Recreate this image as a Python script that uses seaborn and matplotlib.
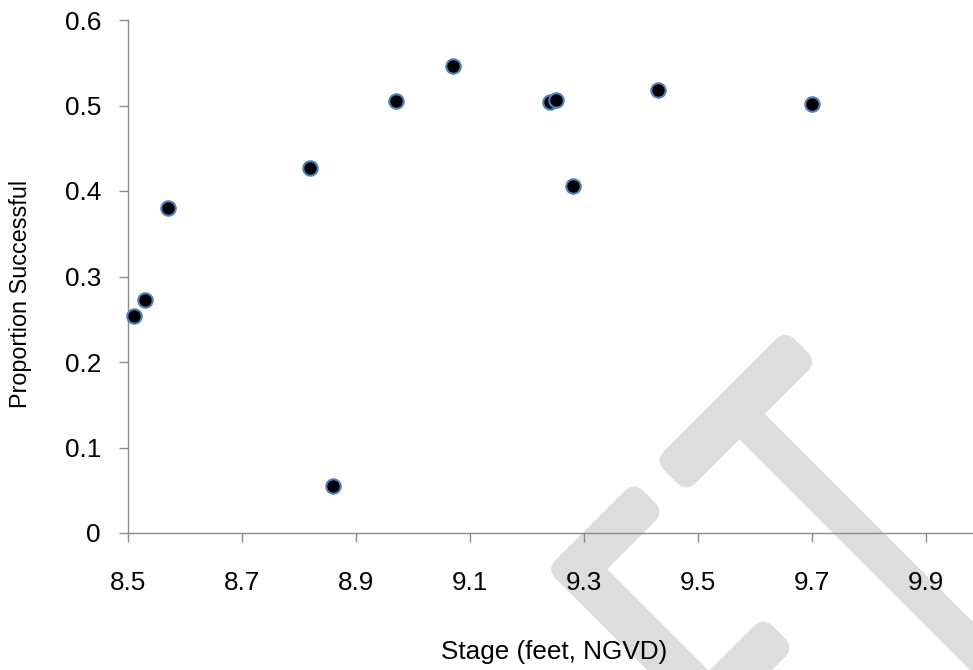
import numpy as np
import pandas as pd
import seaborn as sns
import matplotlib
matplotlib.use("Agg")
import matplotlib.pyplot as plt
from matplotlib.patches import FancyBboxPatch
from matplotlib.transforms import Affine2D

# Stage (feet, NGVD) and the proportion of successful nests at each stage
stage = [8.51, 8.53, 8.57, 8.82, 8.86, 8.97, 9.07, 9.24, 9.25, 9.28, 9.43, 9.70]
proportion = [0.254, 0.273, 0.380, 0.427, 0.055, 0.505, 0.546, 0.504, 0.506, 0.406, 0.518, 0.502]

x_ticks = [8.5, 8.7, 8.9, 9.1, 9.3, 9.5, 9.7, 9.9]
y_ticks = [0, 0.1, 0.2, 0.3, 0.4, 0.5, 0.6]

df = pd.DataFrame({"Stage": stage, "Proportion": proportion})

sns.set_theme(style="white")
plt.rcParams["font.family"] = ["Liberation Sans", "DejaVu Sans"]

W_PX, H_PX, DPI = 973, 670, 100
fig = plt.figure(figsize=(W_PX / DPI, H_PX / DPI), dpi=DPI)
fig.patch.set_facecolor("white")

# Light grey "DRAFT"-style watermark strokes, drawn behind the axes.
# Each stroke is a rounded bar given in pixel space (origin top-left):
# a centre line x+y = s (rising strokes) or x-y = d (falling strokes).
WM_COLOR = "#dddddd"


def stroke(p0, p1, width, radius=14):
    (x0, y0), (x1, y1) = p0, p1
    length = np.hypot(x1 - x0, y1 - y0)
    ang = np.degrees(np.arctan2(-(y1 - y0), x1 - x0))
    cx, cy = (x0 + x1) / 2, H_PX - (y0 + y1) / 2
    box = FancyBboxPatch((-length / 2, -width / 2), length, width,
                         boxstyle=f"round,pad=0,rounding_size={radius}",
                         linewidth=0, facecolor=WM_COLOR, zorder=-5)
    box.set_transform(Affine2D().rotate_deg(ang).translate(cx, cy)
                      .scale(1 / DPI) + fig.dpi_scale_trans)
    fig.patches.append(box)


def rising(s, d0, d1, width):
    return stroke(((s + d0) / 2, (s - d0) / 2), ((s + d1) / 2, (s - d1) / 2), width)


def falling(d, s0, s1, width):
    return stroke(((s0 + d) / 2, (s0 - d) / 2), ((s1 + d) / 2, (s1 - d) / 2), width)


rising(1147, 194, 455.5, 45)       # T cross bar
falling(325.5, 1140, 1800, 36)     # T stem
rising(1146, -23, 152.5, 43)       # left letter, upper arm
falling(7.5, 1116, 1500, 43)       # left letter, lower arm
rising(1411, -150, 146.7, 44)      # stroke at the bottom edge

ax = fig.add_axes([128 / W_PX, 1 - 533 / H_PX, 855 / W_PX, 513 / H_PX])
ax.patch.set_alpha(0)

sns.scatterplot(data=df, x="Stage", y="Proportion", ax=ax,
                s=108, color="black", edgecolor="#4f81bd", linewidth=1.5,
                zorder=3, clip_on=False)

ax.set_xlim(8.5, 10.0)
ax.set_ylim(0, 0.6)
ax.set_xticks(x_ticks)
ax.set_xticklabels([f"{v:.1f}" for v in x_ticks])
ax.set_yticks(y_ticks)
ax.set_yticklabels(["0"] + [f"{v:.1f}" for v in y_ticks[1:]])

axis_grey = "#8c8c8c"
for side in ("top", "right"):
    ax.spines[side].set_visible(False)
for side in ("left", "bottom"):
    ax.spines[side].set_color(axis_grey)
    ax.spines[side].set_linewidth(1.0)

ax.tick_params(axis="both", which="major", direction="out", length=6.5,
               width=1.0, color=axis_grey, labelsize=18.8, labelcolor="black")
ax.tick_params(axis="y", pad=13)
ax.tick_params(axis="x", pad=21)
ax.xaxis.set_ticks_position("bottom")
ax.yaxis.set_ticks_position("left")

ax.set_xlabel("Stage (feet, NGVD)", fontsize=18.8, color="black")
ax.set_ylabel("Proportion Successful", fontsize=16.8, color="black")
ax.xaxis.set_label_coords(426 / 855, -(652 - 533) / 513, transform=ax.transAxes)
ax.yaxis.set_label_coords(-(128 - 21) / 855, 0.5 - (293.5 - 276.5) / 513, transform=ax.transAxes)
ax.xaxis.label.set_va("center")
ax.yaxis.label.set_va("center")

fig.savefig("out.png", dpi=DPI, facecolor="white")
